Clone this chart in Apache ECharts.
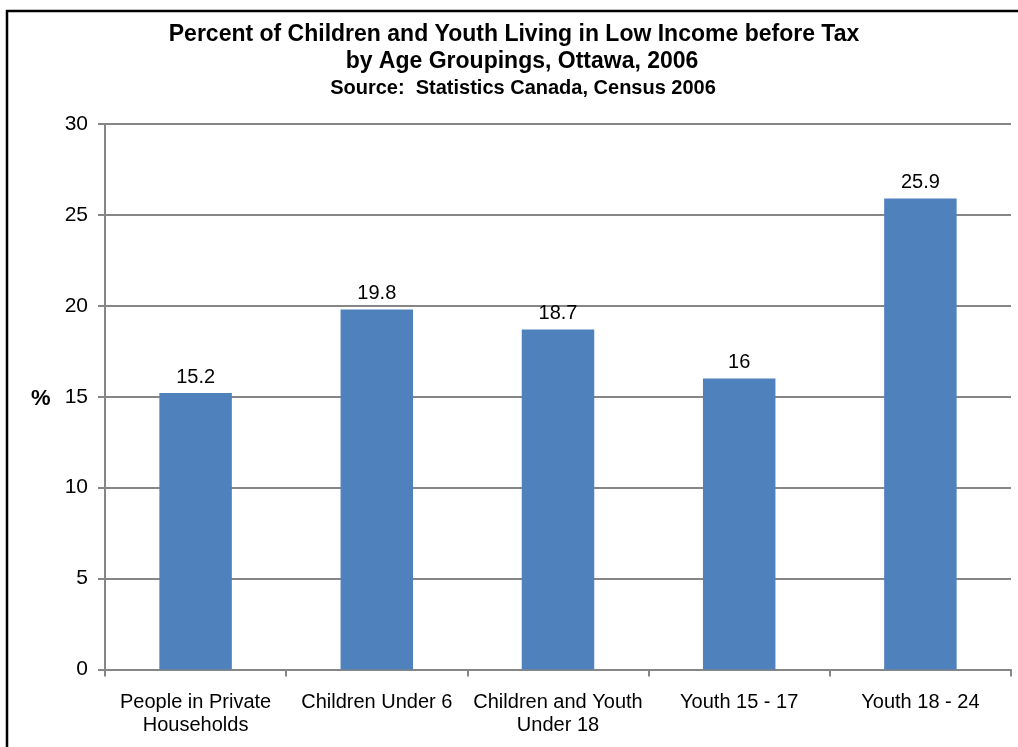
<!DOCTYPE html>
<html>
<head>
<meta charset="utf-8">
<script src="https://cdn.jsdelivr.net/npm/echarts@6/dist/echarts.min.js"></script>
<style>
html,body{margin:0;padding:0;background:#fff;}
#c{width:1018px;height:747px;}
</style>
</head>
<body>
<div id="c"></div>
<script>
const categories = ['People in Private\nHouseholds', 'Children Under 6', 'Children and Youth\nUnder 18', 'Youth 15 - 17', 'Youth 18 - 24'];
const values = [15.2, 19.8, 18.7, 16, 25.9];
const yTicks = [0, 5, 10, 15, 20, 25, 30];
const titleLines = ['Percent of Children and Youth Living in Low Income before Tax', 'by Age Groupings, Ottawa, 2006', 'Source:  Statistics Canada, Census 2006'];

const FONT = '"Liberation Sans", Arial, sans-serif';
const chart = echarts.init(document.getElementById('c'), null, {renderer: 'canvas'});
chart.setOption({
  animation: false,
  backgroundColor: '#fff',
  title: [
    {text: titleLines[0], left: 509, top: 18, textAlign: 'center', textStyle: {fontFamily: FONT, fontSize: 23, fontWeight: 'bold', color: '#000'}},
    {text: titleLines[1], left: 517, top: 45, textAlign: 'center', textStyle: {fontFamily: FONT, fontSize: 23, fontWeight: 'bold', color: '#000'}},
    {text: titleLines[2], left: 518, top: 73, textAlign: 'center', textStyle: {fontFamily: FONT, fontSize: 20, fontWeight: 'bold', color: '#000'}}
  ],
  graphic: [
    {type: 'rect', shape: {x: 7, y: 11, width: 1200, height: 1000}, style: {fill: 'none', stroke: '#000', lineWidth: 2.5}, z: 100},
    {type: 'text', left: 31, top: 388, style: {text: '%', font: 'bold 22px ' + FONT, fill: '#000'}}
  ],
  grid: {left: 105, right: 7, top: 124, bottom: 77.5, containLabel: false},
  xAxis: {
    type: 'category',
    data: categories,
    axisLine: {show: true, lineStyle: {color: '#868686', width: 2}},
    axisTick: {show: true, length: 7, alignWithLabel: false, lineStyle: {color: '#868686', width: 2}},
    axisLabel: {fontFamily: FONT, fontSize: 20, color: '#000', margin: 21, lineHeight: 23, interval: 0}
  },
  yAxis: {
    type: 'value',
    min: yTicks[0], max: yTicks[yTicks.length - 1], interval: yTicks[1] - yTicks[0],
    axisLine: {show: true, lineStyle: {color: '#868686', width: 2}},
    axisTick: {show: true, length: 7, lineStyle: {color: '#868686', width: 2}},
    axisLabel: {fontFamily: FONT, fontSize: 21, color: '#000', margin: 17},
    splitLine: {show: true, lineStyle: {color: '#868686', width: 2}}
  },
  series: [{
    type: 'bar',
    data: values,
    barWidth: '40%',
    itemStyle: {color: '#4F81BD'},
    label: {show: true, position: 'top', distance: 6, fontFamily: FONT, fontSize: 20, color: '#000'}
  }]
});
</script>
</body>
</html>
